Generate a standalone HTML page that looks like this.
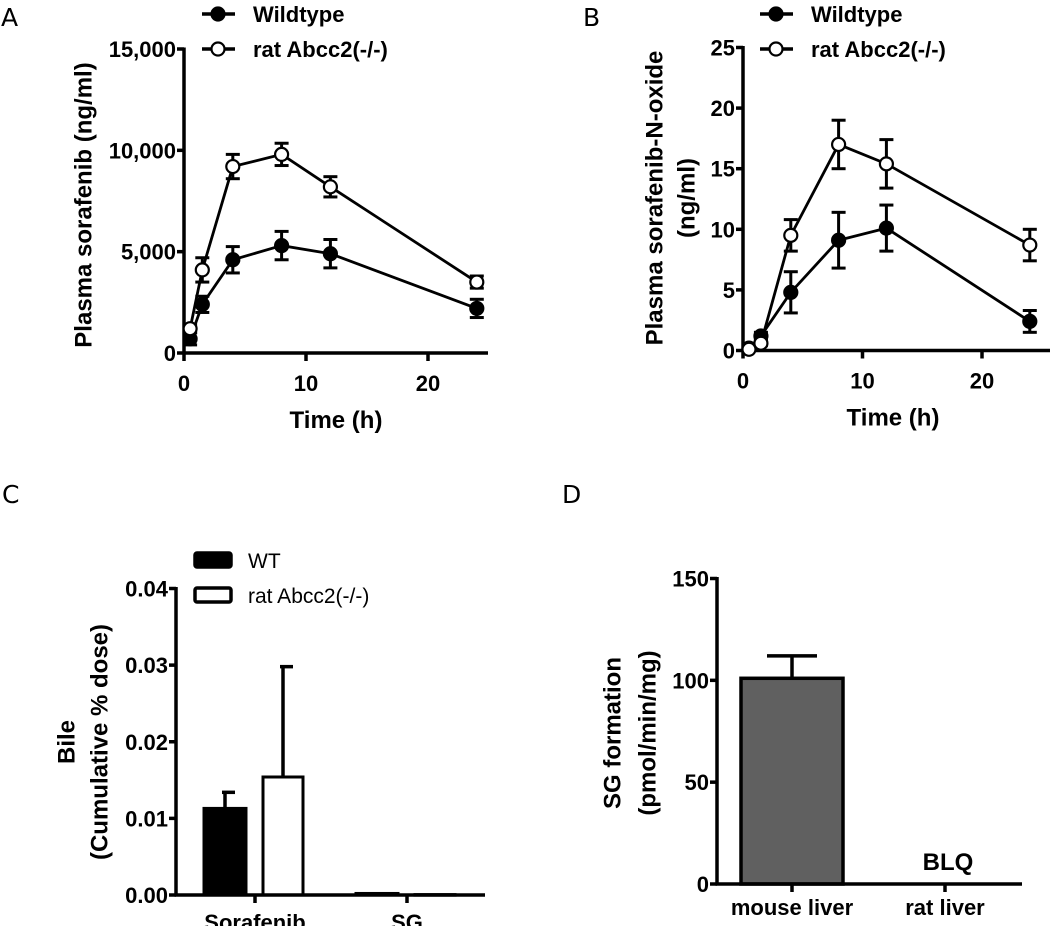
<!DOCTYPE html>
<html><head><meta charset="utf-8"><style>
html,body{margin:0;padding:0;background:#fff;}
svg{display:block;font-family:"Liberation Sans",Arial,sans-serif;}
.tk{font-weight:bold;font-size:22px;}
.tt{font-weight:bold;font-size:24px;}
.lg{font-weight:bold;font-size:22px;}
.pl{font-size:25px;font-family:"DejaVu Sans","Liberation Sans",sans-serif;}
</style></head><body>
<svg id="fig" width="1050" height="926" viewBox="0 0 1050 926"></svg>
<script>
// ---- Panel A data ----
const timesA = [0.5, 1.5, 4, 8, 12, 24];
const wtA = [700, 2400, 4600, 5300, 4900, 2200];
const wtAErr = [300, 400, 650, 700, 700, 450];
const koA = [1200, 4100, 9200, 9800, 8200, 3500];
const koAErr = [200, 600, 600, 550, 500, 300];
const yTicksA = [0, 5000, 10000, 15000];
const yTickLabelsA = ["0", "5,000", "10,000", "15,000"];
const xTicks = [0, 10, 20];
// ---- Panel B data ----
const timesB = [0.5, 1.5, 4, 8, 12, 24];
const wtB = [0.2, 1.2, 4.8, 9.1, 10.1, 2.4];
const wtBErr = [0.1, 0.3, 1.7, 2.3, 1.9, 0.9];
const koB = [0.1, 0.6, 9.5, 17, 15.4, 8.7];
const koBErr = [0.1, 0.2, 1.3, 2.0, 2.0, 1.3];
const yTicksB = [0, 5, 10, 15, 20, 25];
// ---- Panel C data ----
const catsC = ["Sorafenib", "SG"];
const wtC = [0.0113, 0.0002];
const wtCErr = [0.0021, 0];
const koC = [0.0154, 0.00005];
const koCErr = [0.0144, 0];
const yTicksC = [0, 0.01, 0.02, 0.03, 0.04];
const yTickLabelsC = ["0.00", "0.01", "0.02", "0.03", "0.04"];
// ---- Panel D data ----
const catsD = ["mouse liver", "rat liver"];
const valsD = [101, 0];
const errD = [11, 0];
const yTicksD = [0, 50, 100, 150];

const NS = "http://www.w3.org/2000/svg";
const svg = document.getElementById('fig');
const SW = 3.5;
function el(tag, attrs, parent, text) {
  const e = document.createElementNS(NS, tag);
  for (const k in attrs) e.setAttribute(k, attrs[k]);
  if (text !== undefined) e.textContent = text;
  (parent || svg).appendChild(e);
  return e;
}
function lin(d0, d1, r0, r1) { return v => r0 + (v - d0) * (r1 - r0) / (d1 - d0); }

function panelLabel(t, x, y) {
  const e = el('text', {x: x, y: y, class: 'pl'}, svg, t);
  
  
}

function lineChart(id, cfg) {
  const g = el('g', {});
  
  
  const X = lin(0, 10, cfg.x0, cfg.x10);
  const Y = lin(0, cfg.ymax, cfg.y0, cfg.ytop);
  const ya = el('line', {x1: cfg.x0, y1: cfg.ytop - 1.5, x2: cfg.x0, y2: cfg.y0 + 1.5, stroke: '#000', 'stroke-width': SW}, g);
  
  
  const xa = el('line', {x1: cfg.x0 - 1.5, y1: cfg.y0, x2: cfg.xend, y2: cfg.y0, stroke: '#000', 'stroke-width': SW}, g);
  
  
  cfg.yTicks.forEach((v, i) => {
    el('line', {x1: cfg.x0 - 7, x2: cfg.x0, y1: Y(v), y2: Y(v), stroke: '#000', 'stroke-width': SW}, g);
    const t = el('text', {x: cfg.x0 - 8, y: Y(v) + 8, 'text-anchor': 'end', class: 'tk'}, g, cfg.yLabels[i]);
    
    
  });
  xTicks.forEach(v => {
    el('line', {x1: X(v), x2: X(v), y1: cfg.y0, y2: cfg.y0 + 8, stroke: '#000', 'stroke-width': SW}, g);
    const t = el('text', {x: X(v), y: cfg.y0 + 38, 'text-anchor': 'middle', class: 'tk'}, g, String(v));
    
    
  });
  const xt = el('text', {x: cfg.xtitleX, y: cfg.y0 + 75, 'text-anchor': 'middle', class: 'tt'}, g, 'Time (h)');
  
  
  cfg.yTitle.forEach((line, i) => {
    const cx = cfg.ytitleX[i], cy = cfg.ytitleY;
    const t = el('text', {x: cx, y: cy, 'text-anchor': 'middle', class: 'tt', transform: `rotate(-90 ${cx} ${cy})`, 'dominant-baseline': 'central'}, g, line);
    
    
  });
  const series = [
    {name: 'wildtype', t: cfg.times, v: cfg.wt, e: cfg.wtErr, fill: '#000'},
    {name: 'abcc2-knockout', t: cfg.times, v: cfg.ko, e: cfg.koErr, fill: '#fff'}
  ];
  series.forEach(s => {
    const sg = el('g', {}, g);
    
    
    const pts = s.t.map((t, i) => X(t) + ',' + Y(s.v[i])).join(' ');
    el('polyline', {points: pts, fill: 'none', stroke: '#000', 'stroke-width': 2.8}, sg);
    s.t.forEach((t, i) => {
      const x = X(t), yh = Y(s.v[i] + s.e[i]), yl = Y(s.v[i] - s.e[i]);
      el('line', {x1: x, x2: x, y1: yh, y2: yl, stroke: '#000', 'stroke-width': 3}, sg);
      el('line', {x1: x - 7, x2: x + 7, y1: yh, y2: yh, stroke: '#000', 'stroke-width': 3}, sg);
      el('line', {x1: x - 7, x2: x + 7, y1: yl, y2: yl, stroke: '#000', 'stroke-width': 3}, sg);
      const c = el('circle', {cx: x, cy: Y(s.v[i]), r: 6.5, fill: s.fill, stroke: '#000', 'stroke-width': 2.2}, sg);
      
      
    });
  });
  const lg = el('g', {}, g);
  
  
  [['Wildtype', '#000', 14], ['rat Abcc2(-/-)', '#fff', 49]].forEach(([lab, f, y]) => {
    const eg = el('g', {}, lg);
    
    
    el('line', {x1: cfg.legX, x2: cfg.legX + 33, y1: y, y2: y, stroke: '#000', 'stroke-width': SW}, eg);
    el('circle', {cx: cfg.legX + 16, cy: y, r: 6.5, fill: f, stroke: '#000', 'stroke-width': 2.2}, eg);
    el('text', {x: cfg.legX + 51, y: y + 8, class: 'lg'}, eg, lab);
  });
}

panelLabel('A', 1, 26);
lineChart('a', {x0: 184, x10: 306, xend: 488, y0: 353, ytop: 49, ymax: 15000,
  times: timesA, wt: wtA, wtErr: wtAErr, ko: koA, koErr: koAErr,
  yTicks: yTicksA, yLabels: yTickLabelsA, yTitle: ['Plasma sorafenib (ng/ml)'],
  ytitleX: [84], ytitleY: 205, xtitleX: 336, legX: 202});

panelLabel('B', 583, 26);
lineChart('b', {x0: 743, x10: 862.5, xend: 1050, y0: 350.5, ytop: 47.5, ymax: 25,
  times: timesB, wt: wtB, wtErr: wtBErr, ko: koB, koErr: koBErr,
  yTicks: yTicksB, yLabels: yTicksB.map(String), yTitle: ['Plasma sorafenib-N-oxide', '(ng/ml)'],
  ytitleX: [655, 687], ytitleY: 198, xtitleX: 893, legX: 760});

// ---- Panel C ----
panelLabel('C', 2, 503);
(function () {
  const g = el('g', {});
  
  
  const x0 = 176, y0 = 895, ytop = 588.5, xend = 485;
  const Y = lin(0, 0.04, y0, ytop);
  const catX = [255, 407];
  const bw = 42, off = 30;
  el('line', {x1: x0, y1: ytop - 1.5, x2: x0, y2: y0 + 1.5, stroke: '#000', 'stroke-width': SW}, g);
  yTicksC.forEach((v, i) => {
    el('line', {x1: x0 - 7, x2: x0, y1: Y(v), y2: Y(v), stroke: '#000', 'stroke-width': SW}, g);
    const t = el('text', {x: x0 - 8, y: Y(v) + 8, 'text-anchor': 'end', class: 'tk'}, g, yTickLabelsC[i]);
    
    
  });
  catsC.forEach((c, i) => {
    const cx = catX[i];
    const wh = y0 - Y(wtC[i]);
    if (wtCErr[i] > 0) {
      el('line', {x1: cx - off, x2: cx - off, y1: Y(wtC[i]), y2: Y(wtC[i] + wtCErr[i]), stroke: '#000', 'stroke-width': SW}, g);
      el('line', {x1: cx - off - 3, x2: cx - off + 10, y1: Y(wtC[i] + wtCErr[i]), y2: Y(wtC[i] + wtCErr[i]), stroke: '#000', 'stroke-width': SW}, g);
    }
    const b1 = el('rect', {x: cx - off - bw / 2, y: Y(wtC[i]), width: bw, height: Math.max(wh, 0.5), fill: '#000', stroke: '#000', 'stroke-width': 3}, g);
    
    
    const kh = y0 - Y(koC[i]);
    if (koCErr[i] > 0) {
      el('line', {x1: cx + 28, x2: cx + 28, y1: Y(koC[i]), y2: Y(koC[i] + koCErr[i]), stroke: '#000', 'stroke-width': SW}, g);
      el('line', {x1: cx + 25, x2: cx + 38, y1: Y(koC[i] + koCErr[i]), y2: Y(koC[i] + koCErr[i]), stroke: '#000', 'stroke-width': SW}, g);
    }
    const b2 = el('rect', {x: cx + 8, y: Y(koC[i]), width: 40, height: Math.max(kh, 0.5), fill: '#fff', stroke: '#000', 'stroke-width': 3}, g);
    
    
    el('line', {x1: cx, x2: cx, y1: y0, y2: y0 + 8, stroke: '#000', 'stroke-width': SW}, g);
    const t = el('text', {x: cx, y: y0 + 35, 'text-anchor': 'middle', class: 'tk'}, g, c);
    
    
  });
  el('line', {x1: x0 - 1.5, y1: y0, x2: xend, y2: y0, stroke: '#000', 'stroke-width': SW}, g);
  [['Bile', 67], ['(Cumulative % dose)', 100]].forEach(([l, cx]) => {
    const cy = 742;
    const t = el('text', {x: cx, y: cy, 'text-anchor': 'middle', class: 'tt', transform: `rotate(-90 ${cx} ${cy})`, 'dominant-baseline': 'central'}, g, l);
    
    
  });
  const lg = el('g', {}, g);
  
  
  [['WT', '#000', 553], ['rat Abcc2(-/-)', '#fff', 588]].forEach(([lab, f, y]) => {
    const eg = el('g', {}, lg);
    
    
    el('rect', {x: 195, y: y, width: 36, height: 14, rx: 2, fill: f, stroke: '#000', 'stroke-width': 3.5}, eg);
    el('text', {x: 248, y: y + 15, style: 'font-size:21px'}, eg, lab);
  });
})();

// ---- Panel D ----
panelLabel('D', 562, 503);
(function () {
  const g = el('g', {});
  
  
  const x0 = 717, y0 = 884, ytop = 578.5, xend = 1022;
  const Y = lin(0, 150, y0, ytop);
  const catX = [792, 945];
  el('line', {x1: x0, y1: ytop - 1.5, x2: x0, y2: y0 + 1.5, stroke: '#000', 'stroke-width': SW}, g);
  yTicksD.forEach(v => {
    el('line', {x1: x0 - 7, x2: x0, y1: Y(v), y2: Y(v), stroke: '#000', 'stroke-width': SW}, g);
    const t = el('text', {x: x0 - 8, y: Y(v) + 8, 'text-anchor': 'end', class: 'tk'}, g, String(v));
    
    
  });
  catsD.forEach((c, i) => {
    const cx = catX[i];
    if (valsD[i] > 0) {
      el('line', {x1: cx, x2: cx, y1: Y(valsD[i]), y2: Y(valsD[i] + errD[i]), stroke: '#000', 'stroke-width': SW}, g);
      el('line', {x1: cx - 25, x2: cx + 25, y1: Y(valsD[i] + errD[i]), y2: Y(valsD[i] + errD[i]), stroke: '#000', 'stroke-width': SW}, g);
      const b = el('rect', {x: cx - 51, y: Y(valsD[i]), width: 102, height: y0 - Y(valsD[i]), fill: '#606060', stroke: '#000', 'stroke-width': 3.5}, g);
      
      
    } else {
      const t = el('text', {x: cx + 3, y: y0 - 14, 'text-anchor': 'middle', class: 'tt'}, g, 'BLQ');
      
      
    }
    el('line', {x1: cx, x2: cx, y1: y0, y2: y0 + 8, stroke: '#000', 'stroke-width': SW}, g);
    const t = el('text', {x: cx, y: y0 + 31, 'text-anchor': 'middle', class: 'tk'}, g, c);
    
    
  });
  el('line', {x1: x0 - 1.5, y1: y0, x2: xend, y2: y0, stroke: '#000', 'stroke-width': SW}, g);
  [['SG formation', 613], ['(pmol/min/mg)', 648]].forEach(([l, cx]) => {
    const cy = 733;
    const t = el('text', {x: cx, y: cy, 'text-anchor': 'middle', class: 'tt', transform: `rotate(-90 ${cx} ${cy})`, 'dominant-baseline': 'central'}, g, l);
    
    
  });
})();
</script>
</body></html>
